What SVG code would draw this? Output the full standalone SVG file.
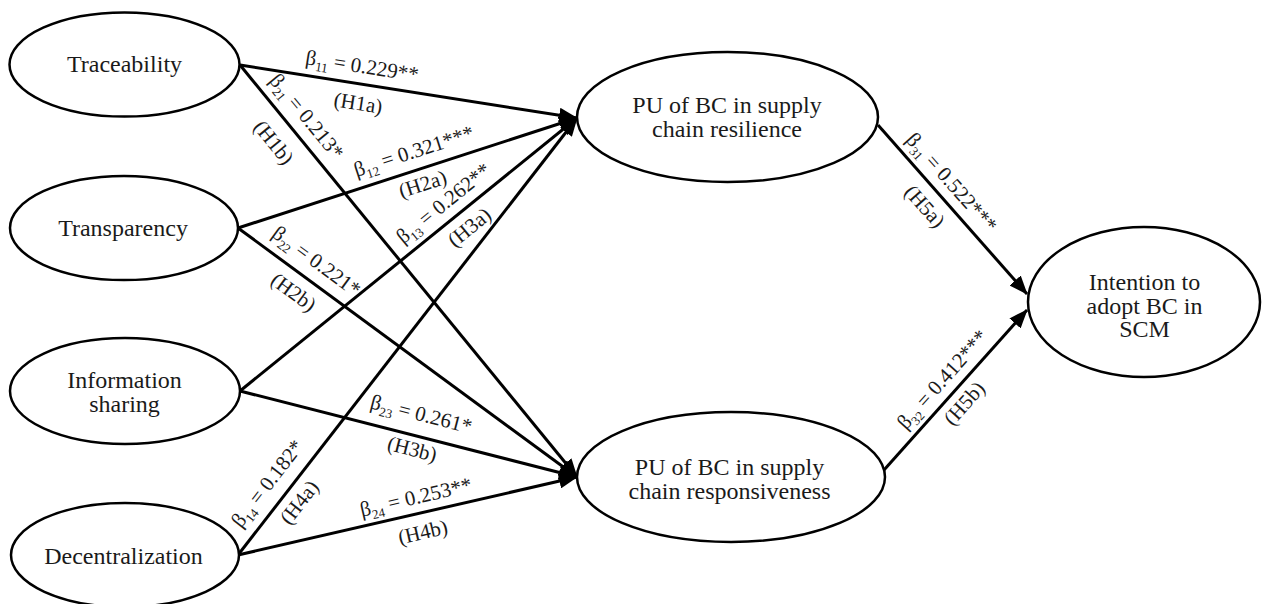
<svg xmlns="http://www.w3.org/2000/svg" width="1262" height="604" viewBox="0 0 1262 604">
<style>
.node ellipse{fill:#fff;stroke:#000;stroke-width:2.5}
.node text{font-family:'Liberation Serif','DejaVu Serif',serif;font-size:24px;fill:#1a1a1a;text-anchor:middle}
.edge{stroke:#000;stroke-width:3;fill:none;marker-end:url(#arr)}
.lbl{font-family:'Liberation Serif','DejaVu Serif',serif;font-size:21px;fill:#1a1a1a;text-anchor:middle}
.sub{font-size:13px}
</style>
<defs>
<marker id="arr" markerUnits="userSpaceOnUse" markerWidth="19" markerHeight="15" refX="18" refY="7.5" orient="auto">
<path d="M0,0 L19,7.5 L0,15 z" fill="#000"/>
</marker>
</defs>
<rect width="1262" height="604" fill="#fff"/>
<g id="connectors">
<line class="edge" x1="240" y1="65" x2="577" y2="118"/>
<line class="edge" x1="240" y1="65" x2="577" y2="477"/>
<line class="edge" x1="238" y1="228" x2="577" y2="118"/>
<line class="edge" x1="238" y1="228" x2="577" y2="477"/>
<line class="edge" x1="240" y1="391" x2="577" y2="118"/>
<line class="edge" x1="240" y1="391" x2="577" y2="477"/>
<line class="edge" x1="238" y1="555" x2="577" y2="118"/>
<line class="edge" x1="238" y1="555" x2="577" y2="477"/>
<line class="edge" x1="878" y1="125" x2="1027" y2="294"/>
<line class="edge" x1="884" y1="470" x2="1027" y2="310"/>
</g>
<g id="labels">
<text class="lbl" transform="translate(362,67) rotate(8.9)" y="6">β<tspan class="sub" dy="5">11</tspan><tspan dy="-5"> = 0.229**</tspan></text>
<text class="lbl" transform="translate(358,104) rotate(8.9)" y="6">(H1a)</text>
<text class="lbl" transform="translate(306,117) rotate(50.7)" y="6">β<tspan class="sub" dy="5">21</tspan><tspan dy="-5"> = 0.213*</tspan></text>
<text class="lbl" transform="translate(273,143) rotate(50.7)" y="6">(H1b)</text>
<text class="lbl" transform="translate(414,152) rotate(-18)" y="6">β<tspan class="sub" dy="5">12</tspan><tspan dy="-5"> = 0.321***</tspan></text>
<text class="lbl" transform="translate(423,185) rotate(-18)" y="6">(H2a)</text>
<text class="lbl" transform="translate(316,262) rotate(36.3)" y="6">β<tspan class="sub" dy="5">22</tspan><tspan dy="-5"> = 0.221*</tspan></text>
<text class="lbl" transform="translate(293,293) rotate(36.3)" y="6">(H2b)</text>
<text class="lbl" transform="translate(444,204) rotate(-39)" y="6">β<tspan class="sub" dy="5">13</tspan><tspan dy="-5"> = 0.262**</tspan></text>
<text class="lbl" transform="translate(470,228) rotate(-39)" y="6">(H3a)</text>
<text class="lbl" transform="translate(421,415) rotate(14.3)" y="6">β<tspan class="sub" dy="5">23</tspan><tspan dy="-5"> = 0.261*</tspan></text>
<text class="lbl" transform="translate(412,450) rotate(14.3)" y="6">(H3b)</text>
<text class="lbl" transform="translate(268,484) rotate(-52.2)" y="6">β<tspan class="sub" dy="5">14</tspan><tspan dy="-5"> = 0.182*</tspan></text>
<text class="lbl" transform="translate(300,503) rotate(-52.2)" y="6">(H4a)</text>
<text class="lbl" transform="translate(416,498) rotate(-13)" y="6">β<tspan class="sub" dy="5">24</tspan><tspan dy="-5"> = 0.253**</tspan></text>
<text class="lbl" transform="translate(423,533) rotate(-13)" y="6">(H4b)</text>
<text class="lbl" transform="translate(951,183) rotate(48.4)" y="6">β<tspan class="sub" dy="5">31</tspan><tspan dy="-5"> = 0.522***</tspan></text>
<text class="lbl" transform="translate(924,207) rotate(48.4)" y="6">(H5a)</text>
<text class="lbl" transform="translate(943,380) rotate(-48.2)" y="6">β<tspan class="sub" dy="5">32</tspan><tspan dy="-5"> = 0.412***</tspan></text>
<text class="lbl" transform="translate(965,404) rotate(-48.2)" y="6">(H5b)</text>
</g>
<g id="traceability" class="node">
<ellipse cx="124.5" cy="64.5" rx="115" ry="52"/>
<text x="124.5" y="72">Traceability</text>
</g>
<g id="transparency" class="node">
<ellipse cx="124" cy="228" rx="114" ry="52"/>
<text x="123" y="236">Transparency</text>
</g>
<g id="information-sharing" class="node">
<ellipse cx="125" cy="391" rx="115" ry="53"/>
<text x="124.5" y="387.5">Information<tspan x="124.5" dy="24">sharing</tspan></text>
</g>
<g id="decentralization" class="node">
<ellipse cx="125" cy="555" rx="114" ry="52"/>
<text x="123.5" y="564">Decentralization</text>
</g>
<g id="pu-resilience" class="node">
<ellipse cx="727.5" cy="117" rx="150.5" ry="65"/>
<text x="727" y="113">PU of BC in supply<tspan x="727" dy="24">chain resilience</tspan></text>
</g>
<g id="pu-responsiveness" class="node">
<ellipse cx="731" cy="477" rx="154" ry="65"/>
<text x="729.5" y="474.5">PU of BC in supply<tspan x="729.5" dy="24">chain responsiveness</tspan></text>
</g>
<g id="intention" class="node">
<ellipse cx="1144" cy="302" rx="116" ry="75"/>
<text x="1144.5" y="290">Intention to<tspan x="1144.5" dy="23.5">adopt BC in</tspan><tspan x="1144.5" dy="23.5">SCM</tspan></text>
</g>
</svg>
